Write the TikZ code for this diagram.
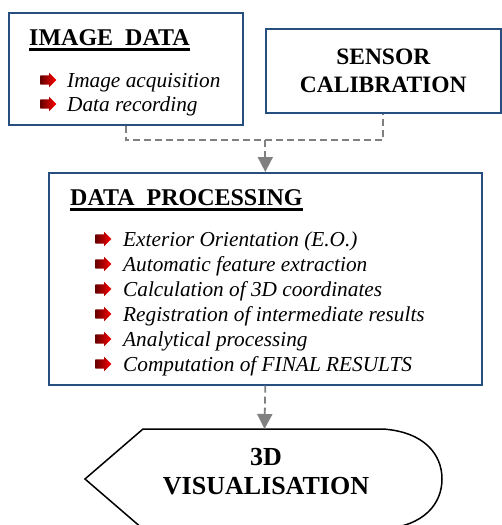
\documentclass[tikz,border=0pt]{standalone}
\usepackage{fontspec}
\setmainfont{Liberation Serif}
\usetikzlibrary{positioning,shapes.arrows,arrows.meta}
\definecolor{boxblue}{RGB}{38,79,128}
\definecolor{dashgray}{RGB}{128,128,128}

\begin{document}
\begin{tikzpicture}[x=1pt,y=1pt]
\tikzstyle{bluebox} = [rectangle, draw=boxblue, line width=1.6pt, inner sep=0pt, anchor=north west]
\tikzstyle{headline} = [inner sep=0pt, anchor=base west, font=\fontsize{24}{28}\selectfont\bfseries]
\tikzstyle{item} = [inner sep=0pt, anchor=base west, font=\fontsize{21.3}{25}\selectfont\itshape]
\tikzstyle{bullet} = [single arrow, minimum height=16pt, inner xsep=0pt, inner ysep=4.5pt, single arrow head extend=2.5pt, left color=red!40!black, right color=red, draw=none]
\tikzstyle{dashline} = [dashgray, line width=1.8pt, dash pattern=on 7pt off 4pt]
\tikzstyle{dasharrow} = [dashline, -{Triangle[width=15pt,length=15pt]}]
\tikzstyle{underbar} = [line width=2.2pt]

\useasboundingbox (0,0) rectangle (501,-525);

%boxes
\node (imgbox) [bluebox, minimum width=234pt, minimum height=112pt] at (8,-12) {};
\node (sensbox) [bluebox, minimum width=235pt, minimum height=84pt, align=center, font=\fontsize{23.5}{28}\selectfont\bfseries] at (265,-28) {SENSOR\\CALIBRATION};
\node (dpbox) [bluebox, minimum width=433pt, minimum height=212pt] at (48,-172) {};

%titles
\node (imgtitle) [headline] at (29,-45) {IMAGE\ \ DATA};
\node (dptitle) [headline] at (70,-205) {DATA\ \ PROCESSING};
\draw [underbar] ([yshift=-4.5pt]imgtitle.base west) -- ([yshift=-4.5pt]imgtitle.base east);
\draw [underbar] ([yshift=-4.5pt]dptitle.base west) -- ([yshift=-4.5pt]dptitle.base east);

%items
\node (acq) [item] at (67,-87) {Image acquisition};
\node (rec) [item] at ([yshift=-24pt]acq.base west) {Data recording};

\node (eo) [item] at (123,-246) {Exterior Orientation (E.O.)};
\node (feat) [item] at ([yshift=-25pt]eo.base west) {Automatic feature extraction};
\node (coord) [item] at ([yshift=-25pt]feat.base west) {Calculation of 3D coordinates};
\node (reg) [item] at ([yshift=-25pt]coord.base west) {Registration of intermediate results};
\node (analyt) [item] at ([yshift=-25pt]reg.base west) {Analytical processing};
\node (final) [item] at ([yshift=-25pt]analyt.base west) {Computation of FINAL RESULTS};

%bullets
\node (bacq) [bullet] at ([xshift=-21pt,yshift=7pt]acq.base west) {};
\node (brec) [bullet] at ([xshift=-21pt,yshift=7pt]rec.base west) {};
\node (beo) [bullet] at ([xshift=-22pt,yshift=7pt]eo.base west) {};
\node (bfeat) [bullet] at ([xshift=-22pt,yshift=7pt]feat.base west) {};
\node (bcoord) [bullet] at ([xshift=-22pt,yshift=7pt]coord.base west) {};
\node (breg) [bullet] at ([xshift=-22pt,yshift=7pt]reg.base west) {};
\node (banalyt) [bullet] at ([xshift=-22pt,yshift=7pt]analyt.base west) {};
\node (bfinal) [bullet] at ([xshift=-22pt,yshift=7pt]final.base west) {};

%3D visualisation
\coordinate (vistop) at (264.5,-429);
\draw [line width=1.5pt] (143,-429) -- (383,-429) .. controls (425,-432) and (442,-455) .. (442,-479)
  .. controls (442,-503) and (425,-526) .. (383,-529) -- (143,-529) -- (85,-479) -- cycle;
\node (vis) [font=\fontsize{26}{29}\selectfont\bfseries, align=center] at (266,-472) {3D\\VISUALISATION};

%lines
\coordinate (lvl) at (0,-140);
\draw [dashline] (imgbox.south) |- (sensbox.south |- lvl) -- (sensbox.south);
\draw [dasharrow] (dpbox.north |- lvl) -- (dpbox.north);
\draw [dasharrow] (dpbox.south) -- (vistop);
\end{tikzpicture}
\end{document}
